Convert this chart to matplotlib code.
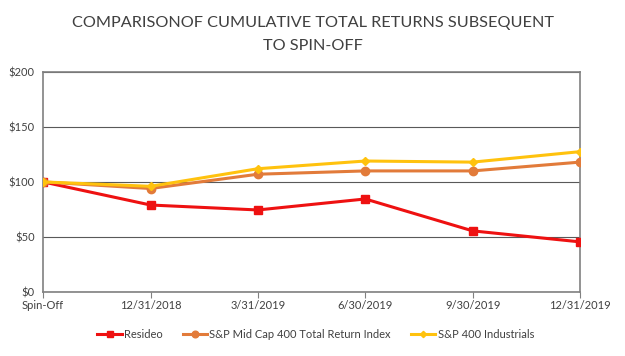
import matplotlib.pyplot as plt

dates = ['Spin-Off', '12/31/2018', '3/31/2019', '6/30/2019', '9/30/2019', '12/31/2019']
resideo = [100, 79, 74.5, 84.5, 55.5, 45.5]
midcap = [100, 94, 107, 110, 110, 118]
industrials = [100, 96, 112, 119, 118, 127.5]

plt.rcParams['font.family'] = ['Lato', 'DejaVu Sans']

fig = plt.figure(figsize=(6.25, 3.56), dpi=100)
ax = fig.add_axes([0.069, 0.18, 0.859, 0.618])

x = range(len(dates))
ax.plot(x, resideo, color='#EE1111', lw=2.2, marker='s', ms=6, label='Resideo', zorder=3)
ax.plot(x, midcap, color='#E27B3A', lw=2.2, marker='o', ms=6, label='S&P Mid Cap 400 Total Return Index', zorder=4)
ax.plot(x, industrials, color='#FFC20E', lw=2.2, marker='D', ms=4, label='S&P 400 Industrials', zorder=5)

ax.set_xlim(0, len(dates) - 1)
ax.set_ylim(0, 200)
ax.set_yticks([0, 50, 100, 150, 200])
ax.set_yticklabels(['$0', '$50', '$100', '$150', '$200'])
ax.set_xticks(list(x))
ax.set_xticklabels(dates)
ax.yaxis.grid(True, color='#595959', lw=0.8)
ax.set_axisbelow(True)
for s in ax.spines.values():
    s.set_color('#808080')
    s.set_linewidth(1.2)
ax.tick_params(axis='y', length=0, labelsize=8, labelcolor='#404040', pad=6)
ax.tick_params(axis='x', length=4, color='#808080', labelsize=8, labelcolor='#404040', pad=2)

fig.text(0.5, 0.935, 'COMPARISONOF CUMULATIVE TOTAL RETURNS SUBSEQUENT', ha='center', va='center',
         fontsize=11.7, color='#404040')
fig.text(0.5, 0.87, 'TO SPIN-OFF', ha='center', va='center', fontsize=11.7, color='#404040')

fig.legend(loc='center', bbox_to_anchor=(0.505, 0.06), ncol=3, frameon=False, fontsize=8,
           handlelength=2.2, columnspacing=1.8, handletextpad=0.2, labelcolor='#404040',
           markerscale=0.8)

fig.savefig('out.png', dpi=100)
